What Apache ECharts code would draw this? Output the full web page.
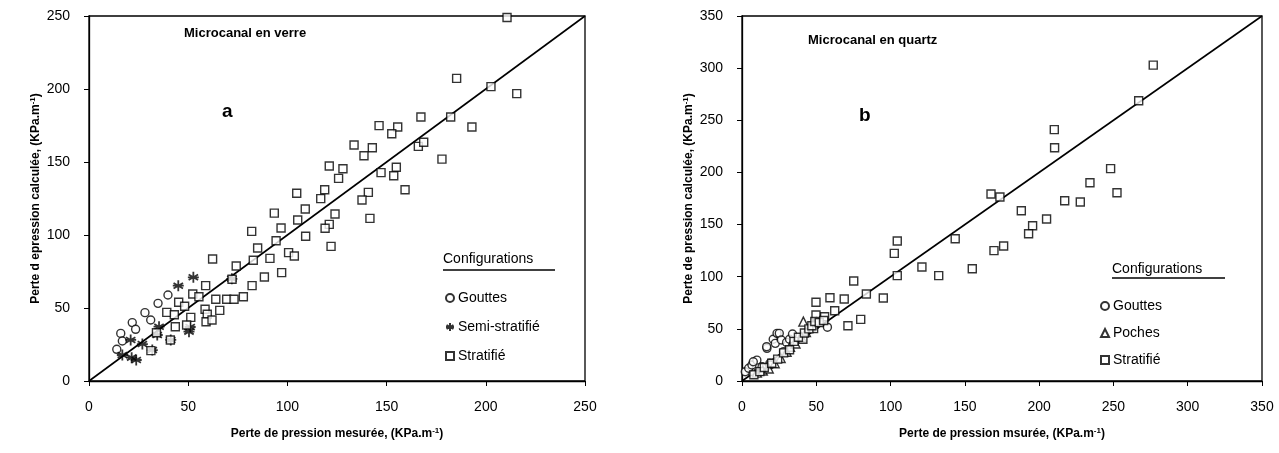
<!DOCTYPE html>
<html>
<head>
<meta charset="utf-8">
<script src="https://cdn.jsdelivr.net/npm/echarts@6/dist/echarts.min.js"></script>
<style>
  html, body { margin: 0; padding: 0; background: #fff; }
  #chart { width: 1279px; height: 453px; }
</style>
</head>
<body>
<div id="chart"></div>
<script>
// ---- données ----
// (a) microcanal en verre : [mesurée, calculée]
var verreGouttes = [
    [16, 32.6], [16.8, 27.4], [14, 21.7], [21.8, 40], [23.5, 35.4],
    [28.2, 46.8], [31.1, 41.8], [34.8, 53.2], [39.8, 58.9]
];
var verreSemi = [
    [21, 28.1], [16.8, 17.8], [26.9, 25.3], [23.8, 14.4], [21.5, 16],
    [31.9, 21.2], [35.3, 37.2], [34.4, 31.5], [41.2, 28.1], [50.4, 33.8],
    [51, 37], [45, 65.3], [52.6, 71], [72, 70]
];
var verreStratifie = [
    [210.7, 249], [185.3, 207.3], [202.6, 201.6], [215.6, 196.8], [167.3, 180.8],
    [182.3, 180.8], [193, 174], [146.2, 174.9], [155.6, 174], [152.6, 169.4],
    [133.6, 161.6], [142.8, 159.8], [138.6, 154.3], [166, 160.7], [168.7, 163.5],
    [177.9, 152], [121.1, 147.3], [128, 145.4], [125.8, 138.8], [147.2, 142.7],
    [154.9, 146.4], [153.6, 140.6], [118.8, 131], [140.8, 129.2], [159.3, 131],
    [104.7, 128.6], [116.8, 124.9], [137.6, 124], [141.6, 111.4], [82, 102.5],
    [93.4, 115], [96.8, 104.8], [105.2, 110.3], [109, 117.8], [124, 114.4],
    [121.1, 107.3], [119, 104.6], [109.2, 99.1], [122, 92.2], [94.3, 96.1],
    [85, 91.1], [100.6, 87.9], [103.5, 85.6], [91.2, 84], [82.8, 82.7],
    [62.3, 83.6], [74.2, 78.8], [97.1, 74.2], [88.4, 71.2], [72.1, 69.7],
    [82.2, 65.3], [58.8, 65.3], [52.3, 59.6], [55.4, 57.7], [45.2, 53.9],
    [48.2, 51.2], [63.9, 56], [69.4, 56], [73.1, 56], [77.8, 57.7],
    [39.2, 47], [43, 45.4], [51.3, 43.6], [58.5, 49.1], [59.6, 45.7],
    [65.9, 48.4], [59, 40.6], [62, 41.8], [43.5, 37.2], [49.2, 38.4],
    [34, 33], [41, 28.1], [31.2, 20.8]
];

// (b) microcanal en quartz
var quartzGouttes = [
    [6, 9], [2.2, 8.9], [4.5, 12.2], [6.7, 15.3], [10, 20], [13.5, 13.7],
    [7.6, 18.5], [16.8, 31.3], [18.8, 17], [19, 15.3], [21, 40], [22.4, 36.1],
    [23.6, 45.7], [25.1, 45.7], [26.5, 39.3], [28, 28.1], [16.6, 32.9],
    [30, 37], [32, 40], [34, 45], [57.5, 51.6]
];
var quartzPoches = [
    [10, 8], [14, 10], [18, 12], [22, 17], [26, 22], [30, 28], [32.3, 32.9],
    [36, 36], [40, 42], [41.3, 56.9], [43, 47], [46, 52], [48, 55], [50, 57]
];
var quartzStratifie = [
    [276.8, 302.9], [267, 268.8], [210.2, 241], [210.4, 223.7], [248.1, 203.6],
    [234.2, 190.1], [252.4, 180.5], [217.2, 172.9], [227.7, 171.6], [205, 155.3],
    [167.6, 179.3], [173.6, 176.4], [188, 163.3], [195.6, 148.9], [192.9, 141.2],
    [176.1, 129.4], [169.6, 125], [143.5, 136.4], [104.5, 134.2], [102.5, 122.4],
    [104.5, 101], [121.1, 109.3], [132.4, 101], [155, 107.7], [95.1, 79.6],
    [75.2, 95.9], [83.7, 83.4], [49.8, 75.5], [59.2, 79.9], [68.8, 78.6],
    [62.4, 67.4], [49.8, 63.3], [55.6, 61.6], [79.9, 59.1], [71.3, 53],
    [48.2, 50.2], [41, 40], [8, 6], [12, 9], [15, 13], [20, 17], [24, 21],
    [28, 27], [32, 30], [35, 38], [38, 42], [42, 46], [45, 50], [47, 53],
    [49, 57], [52, 56], [55, 58]
];

// droites y = x
var diagVerre = [0, 250];
var diagQuartz = [0, 350];

var ticksVerre = { min: 0, max: 250, interval: 50 };
var ticksQuartz = { min: 0, max: 350, interval: 50 };

// ---- style ----
var fontFam = '"Liberation Sans", Arial, sans-serif';
var asterisk = 'path://M5,0 L5,10 M0.7,2.5 L9.3,7.5 M9.3,2.5 L0.7,7.5 M0,5 L10,5';

function markStyle() {
    return { color: '#fff', borderColor: '#000', borderWidth: 1.4 };
}

function makeAxis(idx, t, name, isY) {
    return {
        type: 'value',
        gridIndex: idx,
        min: t.min,
        max: t.max,
        interval: t.interval,
        name: name,
        nameLocation: 'middle',
        nameGap: 46,
        nameTextStyle: {
            fontFamily: fontFam,
            fontSize: 12,
            fontWeight: 'bold',
            color: '#000',
            rich: {
                sup: { fontSize: 8, fontWeight: 'bold', verticalAlign: 'top', padding: [0, 0, 6, 0] }
            }
        },
        axisLine: { show: true, onZero: false, lineStyle: { color: '#000', width: 1.3 } },
        axisTick: { show: true, inside: false, length: 5, lineStyle: { color: '#000' } },
        axisLabel: {
            fontFamily: fontFam,
            fontSize: 14,
            color: '#000',
            margin: 19
        },
        splitLine: { show: false }
    };
}

function scatter(name, data, idx, symbol, size, bw) {
    var st = markStyle();
    if (bw) st.borderWidth = bw;
    return {
        name: name,
        type: 'scatter',
        xAxisIndex: idx,
        yAxisIndex: idx,
        symbol: symbol,
        symbolSize: size,
        itemStyle: st,
        data: data,
        z: 3
    };
}

function diag(ends, idx) {
    return {
        type: 'line',
        xAxisIndex: idx,
        yAxisIndex: idx,
        data: ends.map(function (v) { return [v, v]; }),
        showSymbol: false,
        silent: true,
        lineStyle: { color: '#000', width: 1.6 },
        z: 2
    };
}

function legendBlock(left, top, names, gap) {
    return {
        orient: 'vertical',
        left: left,
        top: top,
        padding: 0,
        itemWidth: 8,
        itemHeight: 8,
        itemGap: gap,
        selectedMode: false,
        textStyle: { fontFamily: fontFam, fontSize: 14, color: '#000', padding: [0, 0, 0, -1] },
        data: names
    };
}

var myChart = echarts.init(document.getElementById('chart'));

var option = {
    backgroundColor: '#fff',
    animation: false,
    grid: [
        { left: 89, top: 16, width: 496, height: 365, show: true, borderColor: '#000', borderWidth: 1.3 },
        { left: 742, top: 16, width: 520, height: 365, show: true, borderColor: '#000', borderWidth: 1.3 }
    ],
    xAxis: [
        makeAxis(0, ticksVerre, 'Perte de pression mesurée, (KPa.m{sup|-1})', false),
        makeAxis(1, ticksQuartz, 'Perte de pression msurée, (KPa.m{sup|-1})', false)
    ],
    yAxis: [
        makeAxis(0, ticksVerre, 'Perte d epression calculée, (KPa.m{sup|-1})', true),
        makeAxis(1, ticksQuartz, 'Perte de pression calculée, (KPa.m{sup|-1})', true)
    ],
    legend: [
        legendBlock(445, 291, ['Gouttes', 'Semi-stratifié', 'Stratifié'], 15),
        legendBlock(1100, 299, ['Gouttes', 'Poches', 'Stratifié'], 13)
    ],
    series: [
        diag(diagVerre, 0),
        scatter('Gouttes', verreGouttes, 0, 'circle', 8),
        scatter('Semi-stratifié', verreSemi, 0, asterisk, 11, 1.8),
        scatter('Stratifié', verreStratifie, 0, 'rect', 8),
        diag(diagQuartz, 1),
        scatter('Gouttes', quartzGouttes, 1, 'circle', 8),
        scatter('Poches', quartzPoches, 1, 'triangle', 9),
        scatter('Stratifié', quartzStratifie, 1, 'rect', 8)
    ],
    graphic: [
        { type: 'text', left: 184, top: 27, style: { text: 'Microcanal en verre', font: 'bold 13px ' + fontFam, fill: '#000' } },
        { type: 'text', left: 222, top: 102, style: { text: 'a', font: 'bold 19px ' + fontFam, fill: '#000' } },
        { type: 'text', left: 808, top: 34, style: { text: 'Microcanal en quartz', font: 'bold 13px ' + fontFam, fill: '#000' } },
        { type: 'text', left: 859, top: 106, style: { text: 'b', font: 'bold 19px ' + fontFam, fill: '#000' } },
        { type: 'text', left: 443, top: 252, style: { text: 'Configurations', font: '14px ' + fontFam, fill: '#000' } },
        { type: 'line', shape: { x1: 443, y1: 270, x2: 555, y2: 270 }, style: { stroke: '#000', lineWidth: 1.3 } },
        { type: 'text', left: 1112, top: 262, style: { text: 'Configurations', font: '14px ' + fontFam, fill: '#000' } },
        { type: 'line', shape: { x1: 1112, y1: 278, x2: 1225, y2: 278 }, style: { stroke: '#000', lineWidth: 1.3 } }
    ]
};

myChart.setOption(option);

window.addEventListener('resize', function () {
    myChart.resize();
});
</script>
</body>
</html>
